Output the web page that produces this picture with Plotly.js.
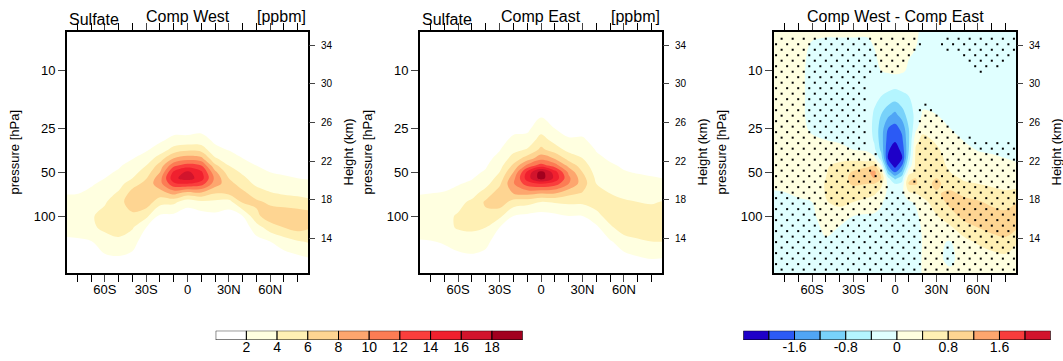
<!DOCTYPE html>
<html><head><meta charset="utf-8">
<script src="https://cdn.plot.ly/plotly-3.0.1.min.js"></script>
<style>html,body{margin:0;padding:0;background:#fff}#chart{width:1063px;height:361px}</style>
</head><body><div id="chart"></div>
<script>
// ---------------- data ----------------
const lat = [-88,-80,-70,-60,-50,-40,-30,-20,-10,0,10,20,30,40,50,60,70,80,88];
const plev = [5,10,15,20,25,30,35,40,45,50,55,60,70,80,100,120,150,200,250];

// sulfate, Comp West (one list per latitude, values at plev)
const sulfWest = [
 [0.1,0.1,0.2,0.3,0.4,0.5,0.6,0.7,0.85,1.0,1.2,1.4,1.9,2.7,3.5,3.0,1.5,0.8,0.4],
 [0.1,0.1,0.2,0.3,0.4,0.5,0.6,0.75,0.9,1.1,1.3,1.5,1.95,2.8,3.6,3.2,1.6,0.8,0.4],
 [0.1,0.1,0.2,0.3,0.4,0.5,0.7,0.9,1.1,1.3,1.6,1.8,2.4,3.1,3.8,3.6,1.9,0.9,0.5],
 [0.1,0.2,0.3,0.4,0.5,0.7,0.9,1.1,1.4,1.7,2.0,2.4,3.1,3.8,4.6,4.5,3.0,1.5,0.6],
 [0.1,0.2,0.3,0.4,0.6,0.8,1.1,1.4,1.8,2.2,2.7,3.2,4.3,5.2,5.7,5.0,3.5,1.6,0.7],
 [0.1,0.2,0.3,0.5,0.7,1.0,1.4,1.9,2.6,3.2,4.0,5.2,6.8,7.2,5.5,4.2,2.8,1.3,0.6],
 [0.2,0.3,0.4,0.6,0.9,1.3,1.8,2.7,4.0,5.0,5.9,6.6,7.8,7.2,4.5,2.0,0.8,0.4,0.2],
 [0.2,0.3,0.5,0.8,1.2,1.7,2.8,5.0,6.8,8.0,9.2,9.3,7.0,4.8,1.6,0.8,0.5,0.3,0.2],
 [0.2,0.4,0.6,0.9,1.3,2.5,4.8,8.0,11.5,14.5,15.5,13.5,8.5,4.5,1.5,0.9,0.6,0.4,0.3],
 [0.2,0.4,0.7,1.0,1.2,2.6,5.6,9.0,13.0,16.5,17.0,14.0,7.0,2.8,0.9,0.8,0.6,0.4,0.3],
 [0.2,0.4,0.7,1.0,1.4,2.8,5.2,8.5,12.0,14.5,15.0,13.0,7.5,3.5,1.2,0.8,0.6,0.4,0.3],
 [0.2,0.3,0.5,0.8,1.1,1.6,2.5,4.2,6.5,8.5,9.5,9.0,6.0,3.5,1.5,0.9,0.6,0.4,0.3],
 [0.2,0.3,0.4,0.6,0.9,1.3,1.9,2.9,4.0,5.0,6.0,6.8,6.4,3.2,1.0,0.6,0.4,0.3,0.2],
 [0.1,0.2,0.3,0.5,0.7,1.0,1.4,2.0,2.9,3.7,4.4,5.0,6.6,6.3,2.0,0.8,0.5,0.3,0.2],
 [0.1,0.2,0.3,0.4,0.6,0.8,1.1,1.5,2.0,2.5,3.1,3.6,5.0,6.4,5.5,3.0,1.3,0.5,0.3],
 [0.1,0.2,0.3,0.4,0.5,0.7,0.9,1.2,1.6,2.0,2.5,3.0,4.2,5.6,7.2,5.0,2.0,0.6,0.3],
 [0.1,0.2,0.3,0.4,0.5,0.6,0.8,1.0,1.4,1.8,2.2,2.7,3.8,5.2,7.3,6.0,3.0,0.9,0.4],
 [0.1,0.2,0.3,0.4,0.5,0.6,0.8,1.0,1.3,1.6,2.0,2.5,3.6,4.8,7.3,6.8,3.8,1.3,0.5],
 [0.1,0.2,0.3,0.4,0.5,0.6,0.7,0.9,1.2,1.5,1.9,2.3,3.3,4.5,7.0,6.2,4.2,1.7,0.6]
];

// sulfate, Comp East
const sulfEast = [
 [0.1,0.1,0.2,0.3,0.4,0.5,0.6,0.7,0.85,1.0,1.2,1.4,1.9,2.6,3.3,3.1,1.8,0.9,0.4],
 [0.1,0.1,0.2,0.3,0.4,0.5,0.6,0.75,0.9,1.1,1.3,1.5,2.0,2.7,3.4,3.2,1.9,0.9,0.4],
 [0.1,0.1,0.2,0.3,0.4,0.5,0.7,0.85,1.0,1.2,1.4,1.6,2.1,2.8,3.5,3.4,2.2,1.0,0.4],
 [0.1,0.2,0.3,0.4,0.5,0.6,0.8,1.0,1.2,1.4,1.6,1.9,2.5,3.4,4.2,4.2,2.8,1.3,0.5],
 [0.1,0.2,0.3,0.4,0.5,0.7,0.9,1.1,1.4,1.6,1.9,2.3,3.2,4.4,5.0,4.4,3.0,1.5,0.6],
 [0.1,0.2,0.3,0.5,0.7,0.9,1.2,1.5,1.8,2.2,2.7,3.3,5.0,6.3,5.5,4.0,2.6,1.1,0.5],
 [0.1,0.2,0.4,0.7,1.0,1.4,1.9,2.5,3.2,4.0,4.8,5.6,7.0,7.2,4.5,2.0,0.8,0.4,0.2],
 [0.2,0.3,0.6,1.0,1.5,2.4,3.4,4.8,6.4,8.0,9.3,9.8,8.0,5.2,2.0,1.0,0.6,0.4,0.3],
 [0.3,0.5,0.7,1.0,1.6,2.6,4.2,6.8,10.5,14.5,15.0,13.0,8.5,4.8,1.5,0.9,0.6,0.4,0.3],
 [0.3,0.6,1.0,1.7,3.1,4.9,6.5,9.2,13.0,19.0,19.0,14.0,8.0,4.0,1.2,0.8,0.6,0.4,0.3],
 [0.3,0.5,0.8,1.2,2.0,3.3,5.0,7.8,11.0,15.0,15.5,13.0,8.0,4.2,1.5,0.9,0.6,0.4,0.3],
 [0.2,0.4,0.6,0.9,1.4,2.2,3.4,5.2,7.4,9.6,10.5,10.0,6.5,4.4,2.0,1.0,0.6,0.4,0.3],
 [0.2,0.3,0.5,0.9,1.5,2.2,3.0,4.0,5.0,6.0,6.8,7.0,5.8,4.4,2.0,1.0,0.6,0.4,0.3],
 [0.1,0.2,0.4,0.7,1.1,1.5,1.9,2.3,2.8,3.2,3.6,4.0,4.7,5.0,3.3,1.6,0.8,0.4,0.3],
 [0.1,0.2,0.3,0.5,0.8,1.1,1.4,1.8,2.2,2.6,2.9,3.2,4.0,4.6,5.0,3.6,1.8,0.6,0.3],
 [0.1,0.2,0.3,0.4,0.6,0.9,1.2,1.5,1.8,2.1,2.5,2.9,3.6,4.2,5.2,5.1,3.0,1.2,0.5],
 [0.1,0.2,0.3,0.4,0.6,0.8,1.1,1.4,1.7,1.9,2.3,2.6,3.3,4.0,5.2,5.4,3.6,1.6,0.7],
 [0.1,0.2,0.3,0.4,0.6,0.8,1.0,1.3,1.6,1.8,2.1,2.4,3.1,3.8,5.0,5.5,4.0,1.9,0.8],
 [0.1,0.2,0.3,0.4,0.6,0.8,1.0,1.3,1.6,1.8,2.0,2.3,3.0,4.1,5.0,5.3,4.0,1.8,0.8]
];

// difference Comp West - Comp East
const dLat = [-88,-80,-70,-60,-50,-40,-30,-20,-15,-10,-5,0,5,10,15,20,30,40,50,60,70,80,88];
const dPlev = [5,7,10,15,20,25,30,35,40,45,50,55,60,70,80,100,120,150,200,250];
const diffWE = [
 [0.15,0.15,0.15,0.15,0.15,0.15,0.15,0.2,0.2,0.2,0.2,0.15,0.1,-0.05,-0.15,-0.2,-0.2,-0.2,-0.2,-0.2],
 [0.15,0.15,0.15,0.15,0.15,0.15,0.15,0.2,0.2,0.2,0.2,0.15,0.1,-0.02,-0.12,-0.2,-0.2,-0.2,-0.2,-0.2],
 [0.15,0.12,0.1,0.1,0.1,0.1,0.12,0.15,0.2,0.2,0.2,0.2,0.15,0.05,-0.05,-0.15,-0.2,-0.2,-0.2,-0.2],
 [0.1,-0.05,-0.1,-0.1,-0.1,-0.05,0.05,0.1,0.15,0.2,0.25,0.3,0.25,0.1,0.0,-0.1,-0.15,-0.2,-0.2,-0.2],
 [0.05,-0.05,-0.15,-0.15,-0.15,-0.1,0.0,0.2,0.3,0.36,0.38,0.4,0.42,0.42,0.38,0.25,0.1,-0.05,-0.2,-0.2],
 [0.05,-0.05,-0.15,-0.2,-0.2,-0.15,-0.05,0.1,0.3,0.5,0.6,0.65,0.65,0.6,0.5,0.2,-0.02,-0.15,-0.2,-0.2],
 [0.05,-0.05,-0.15,-0.2,-0.2,-0.2,-0.1,0.0,0.3,0.6,0.85,0.9,0.85,0.6,0.4,0.0,-0.1,-0.15,-0.2,-0.2],
 [0.05,-0.05,-0.15,-0.2,-0.2,-0.2,-0.15,-0.05,0.2,0.7,1.1,1.0,0.8,0.5,0.3,-0.05,-0.1,-0.15,-0.2,-0.2],
 [0.05,0.0,-0.1,-0.3,-0.45,-0.5,-0.45,-0.3,0.1,0.8,1.35,1.2,0.8,0.45,0.2,-0.05,-0.1,-0.15,-0.2,-0.2],
 [0.1,0.1,0.0,-0.4,-0.8,-1.0,-1.0,-0.9,-0.6,0.0,0.6,0.8,0.5,0.25,0.05,-0.1,-0.15,-0.15,-0.2,-0.2],
 [0.15,0.15,0.05,-0.5,-1.1,-1.6,-1.8,-1.95,-2.05,-1.6,-1.0,-0.3,-0.1,-0.1,-0.15,-0.2,-0.2,-0.2,-0.2,-0.2],
 [0.2,0.2,0.1,-0.6,-1.3,-1.75,-1.95,-2.2,-2.4,-2.2,-1.6,-0.9,-0.4,-0.2,-0.2,-0.2,-0.2,-0.2,-0.2,-0.2],
 [0.15,0.15,0.05,-0.5,-1.0,-1.5,-1.7,-1.9,-2.05,-1.6,-1.1,-0.6,-0.3,-0.1,-0.1,-0.15,-0.2,-0.2,-0.2,-0.2],
 [0.1,0.05,-0.05,-0.4,-0.6,-0.8,-0.85,-0.8,-0.6,-0.3,0.2,0.7,0.85,0.3,-0.05,-0.1,-0.15,-0.15,-0.2,-0.2],
 [0.05,0.0,-0.1,-0.3,-0.3,-0.1,0.3,0.45,0.5,0.5,0.5,0.8,0.85,0.4,0.05,-0.1,-0.15,-0.15,-0.1,-0.1],
 [-0.05,-0.1,-0.15,-0.15,0.05,0.3,0.5,0.6,0.6,0.55,0.5,0.55,0.6,0.5,0.3,0.15,0.05,0.02,0.02,0.02],
 [-0.1,-0.15,-0.2,-0.1,0.0,0.2,0.35,0.45,0.5,0.5,0.6,0.8,0.9,0.75,0.55,0.38,0.15,0.05,0.05,0.05],
 [-0.1,-0.15,-0.2,-0.2,-0.1,0.0,0.15,0.25,0.3,0.35,0.4,0.5,0.6,0.9,0.95,0.6,0.35,-0.02,-0.05,0.05],
 [-0.15,-0.2,-0.2,-0.2,-0.15,-0.1,-0.02,0.1,0.2,0.25,0.3,0.35,0.45,0.7,0.95,0.95,0.6,0.3,0.1,0.1],
 [-0.15,-0.2,-0.2,-0.2,-0.2,-0.15,-0.1,-0.02,0.1,0.2,0.25,0.3,0.4,0.6,0.85,1.0,0.8,0.45,0.15,0.1],
 [-0.15,-0.2,-0.2,-0.2,-0.2,-0.15,-0.1,-0.05,0.05,0.15,0.2,0.25,0.35,0.5,0.7,1.0,0.95,0.6,0.2,0.1],
 [-0.15,-0.2,-0.2,-0.2,-0.2,-0.2,-0.15,-0.1,0.0,0.1,0.2,0.25,0.3,0.45,0.6,0.95,1.0,0.7,0.25,0.15],
 [-0.15,-0.2,-0.2,-0.2,-0.2,-0.2,-0.15,-0.1,-0.05,0.05,0.15,0.25,0.3,0.5,0.8,1.0,0.85,0.42,0.25,0.15]
];

// significance stipple field (one string per row of the stipple lattice, '.' = stippled)
const sigLevels = [6.03,6.58,7.18,7.83,8.54,9.32,10.17,11.09,12.10,13.20,14.40,15.71,17.14,18.70,20.40,22.26,24.28,26.49,28.90,31.53,34.40,37.53,40.95,44.67,48.74,53.17,58.01,63.29,69.05,75.33,82.18,89.66,97.82,106.7,116.4,127.0,138.6,151.2,165.0,180.0,196.3,214.2,233.7];
const sigLatsEven = [-82,-74,-66,-58,-50,-42,-34,-26,-18,-10,-2,6,14,22,30,38,46,54,62,70,78,86];
const sigLatsOdd  = [-86,-78,-70,-62,-54,-46,-38,-30,-22,-14,-6,2,10,18,26,34,42,50,58,66,74,82];
const sigMask = [
 ".............  .......",
 ".............. .......",
 ".............  .......",
 ".............    .....",
 "............     .... ",
 "............      ... ",
 "...........       .   ",
 ".........             ",
 "........              ",
 ".........             ",
 "........              ",
 ".........             ",
 "........     .        ",
 ".........    ..       ",
 "........     ..       ",
 ".........    ...      ",
 "........     ...      ",
 ".........    ....     ",
 "........     .....    ",
 ".........    .........",
 "........     .........",
 "..........   .........",
 ".........    .........",
 "..........   .........",
 "..........  ..........",
 "..........   .........",
 "..........  ..........",
 "...........  .........",
 "......................",
 "......................",
 "......................",
 "......................",
 "......................",
 "......................",
 "......................",
 "......................",
 "......................",
 "......................",
 "......................",
 "......................",
 "......................",
 "......................",
 "......................"
];

const sulfContour = {start: 2, end: 18, size: 2};
const diffContour = {start: -2.0, end: 2.0, size: 0.4};
const sulfColors = ['#FFFFFF','#FFFFE0','#FFF0B4','#FED592','#FDA66E','#FC7C54','#FA3E3C','#F0202E','#D2142C','#A2001E'];
const diffColors = ['#1E00C8','#2B5AF5','#50A5F5','#78D2FA','#B4F5FF','#E0FFFF','#FFFFE0','#FFF0B4','#FED592','#FDA66E','#F83C3C','#D2142C'];
const sulfBarTicks = [1,2,3,4,5,6,7,8,9];
const sulfBarText = ['2','4','6','8','10','12','14','16','18'];
const diffBarTicks = [2,4,6,8,10];
const diffBarText = ['-1.6','-0.8','0','0.8','1.6'];
const latTicks = [-60,-30,0,30,60];
const latTickText = ['60S','30S','0','30N','60N'];
const latMinor = [-80,-70,-50,-40,-20,-10,10,20,40,50,70,80];
const presTicks = [10,25,50,100];
const hgtTicks = [14,18,22,26,30,34];

// ---------------- figure ----------------
const W = 1063, H = 361;
const FONT = 'Liberation Sans, Arial, Helvetica, sans-serif';
const fx = p => p / W, fy = p => 1 - p / H;
const cscale = cols => cols.map((c, i) => [i / (cols.length - 1), c]);

const traces = [];
function contourTrace(x, y, z, cont, cols, xa, ya) {
  return {type: 'contour', x: x, y: y, z: z, transpose: true, xaxis: xa, yaxis: ya,
    autocontour: false, contours: Object.assign({coloring: 'fill', showlines: false}, cont),
    colorscale: cscale(cols), showscale: false, line: {width: 0, smoothing: 1}, hoverinfo: 'skip'};
}
traces.push(contourTrace(lat, plev, sulfWest, sulfContour, sulfColors, 'x', 'y'));
traces.push(contourTrace(lat, plev, sulfEast, sulfContour, sulfColors, 'x2', 'y3'));
traces.push(contourTrace(dLat, dPlev, diffWE, diffContour, diffColors, 'x3', 'y5'));

// stipple
const sx = [], sy = [];
sigMask.forEach((row, r) => {
  const lats = (r % 2 === 0) ? sigLatsEven : sigLatsOdd;
  for (let i = 0; i < row.length; i++) if (row[i] === '.') { sx.push(lats[i]); sy.push(sigLevels[r]); }
});
traces.push({type: 'scatter', mode: 'markers', x: sx, y: sy, xaxis: 'x3', yaxis: 'y5',
  marker: {symbol: 'square', size: 2, color: '#000', line: {width: 0}}, hoverinfo: 'skip'});

// dummy traces for height axes
[['x','y2'],['x2','y4'],['x3','y6']].forEach(a => traces.push({type:'scatter', x:[], y:[], xaxis:a[0], yaxis:a[1], hoverinfo:'skip'}));

// label bars
function barTrace(cols, xa, ya) {
  return {type: 'bar', x: cols.map((c, i) => i + 0.5), y: cols.map(() => 1), width: 1,
    marker: {color: cols, line: {color: '#000', width: 1}}, xaxis: xa, yaxis: ya, hoverinfo: 'skip'};
}
traces.push(barTrace(sulfColors, 'x4', 'y7'));
traces.push(barTrace(diffColors, 'x5', 'y8'));

const panels = [[67, 308], [420, 662], [774, 1016]];
const yTop = 32, yBot = 273;
const layout = {
  width: W, height: H, margin: {l: 0, r: 0, t: 0, b: 0},
  paper_bgcolor: '#fff', plot_bgcolor: 'rgba(0,0,0,0)', showlegend: false,
  font: {family: FONT, color: '#000'}, bargap: 0,
  annotations: []
};
const xNames = ['xaxis', 'xaxis2', 'xaxis3'];
const yNames = [['yaxis', 'yaxis2', 'x', 'y'], ['yaxis3', 'yaxis4', 'x2', 'y3'], ['yaxis5', 'yaxis6', 'x3', 'y5']];
panels.forEach((p, k) => {
  const yn = yNames[k];
  layout[xNames[k]] = {domain: [fx(p[0]), fx(p[1])], anchor: yn[3], range: [-87.5, 87.5],
    tickmode: 'array', tickvals: latTicks, ticktext: latTickText, ticks: 'outside', ticklen: 7, tickwidth: 1,
    minor: {tickmode: 'array', tickvals: latMinor, ticks: 'outside', ticklen: 4, tickwidth: 1, tickcolor: '#000', showgrid: false},
    showline: true, linewidth: 2, linecolor: '#000', mirror: 'allticks', showgrid: false, zeroline: false,
    ticklabelstandoff: -4,
    tickfont: {size: 13, family: FONT}, fixedrange: true};
  layout[yn[0]] = {domain: [fy(yBot), fy(yTop)], anchor: yn[2], type: 'log',
    range: [Math.log10(246.6), Math.log10(5.42)],
    tickmode: 'array', tickvals: presTicks, ticktext: presTicks.map(String), ticks: 'outside', ticklen: 7, tickwidth: 1,
    showline: true, linewidth: 2, linecolor: '#000', mirror: true, showgrid: false, zeroline: false,
    tickfont: {size: 13, family: FONT}, fixedrange: true};
  layout[yn[1]] = {overlaying: yn[3], anchor: yn[2], side: 'right', range: [10.41, 35.35],
    tickmode: 'array', tickvals: hgtTicks, ticks: 'outside', ticklen: 6, tickwidth: 1,
    ticklabelstandoff: 4,
    showline: false, showgrid: false, zeroline: false, tickfont: {size: 10, family: FONT}, fixedrange: true};
  layout.annotations.push({text: 'pressure [hPa]', x: fx(p[0] - 53), y: fy(152.5), xref: 'paper', yref: 'paper',
    textangle: -90, showarrow: false, xanchor: 'center', yanchor: 'middle', font: {size: 13}});
  layout.annotations.push({text: 'Height (km)', x: fx(p[1] + 40), y: fy(152.5), xref: 'paper', yref: 'paper',
    textangle: -90, showarrow: false, xanchor: 'center', yanchor: 'middle', font: {size: 13}});
});
// titles
[[0, 'Comp West'], [1, 'Comp East']].forEach(([k, name]) => {
  const p = panels[k];
  layout.annotations.push({text: 'Sulfate', x: fx(p[0]), y: fy(19.3), xref: 'paper', yref: 'paper', xanchor: 'left', yanchor: 'middle', showarrow: false, font: {size: 16}});
  layout.annotations.push({text: name, x: fx((p[0] + p[1]) / 2), y: fy(16), xref: 'paper', yref: 'paper', xanchor: 'center', yanchor: 'middle', showarrow: false, font: {size: 16}});
  layout.annotations.push({text: '[ppbm]', x: fx(p[1]), y: fy(16), xref: 'paper', yref: 'paper', xanchor: 'right', yanchor: 'middle', showarrow: false, font: {size: 16}});
});
layout.annotations.push({text: 'Comp West - Comp East', x: fx((panels[2][0] + panels[2][1]) / 2), y: fy(16), xref: 'paper', yref: 'paper', xanchor: 'center', yanchor: 'middle', showarrow: false, font: {size: 16}});

// label bars axes
layout.xaxis4 = {domain: [fx(215.7), fx(522.7)], anchor: 'y7', range: [0, sulfColors.length], tickmode: 'array',
  tickvals: sulfBarTicks, ticktext: sulfBarText, ticks: '', showline: false, showgrid: false, zeroline: false,
  ticklabelstandoff: -3, tickfont: {size: 14, family: FONT}, fixedrange: true};
layout.yaxis7 = {domain: [fy(340), fy(330.7)], anchor: 'x4', range: [0, 1], visible: false, fixedrange: true};
layout.xaxis5 = {domain: [fx(743.3), fx(1050.7)], anchor: 'y8', range: [0, diffColors.length], tickmode: 'array',
  tickvals: diffBarTicks, ticktext: diffBarText, ticks: '', showline: false, showgrid: false, zeroline: false,
  ticklabelstandoff: -3, tickfont: {size: 14, family: FONT}, fixedrange: true};
layout.yaxis8 = {domain: [fy(340), fy(330.7)], anchor: 'x5', range: [0, 1], visible: false, fixedrange: true};

Plotly.newPlot('chart', traces, layout, {staticPlot: true, displayModeBar: false});
</script>
</body></html>
